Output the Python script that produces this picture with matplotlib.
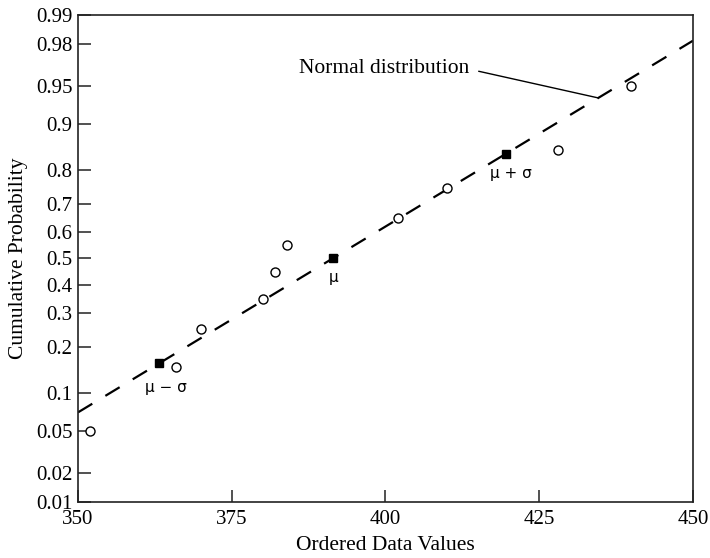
import math
import numpy as np
import matplotlib
matplotlib.use("Agg")
import matplotlib.pyplot as plt
from matplotlib.ticker import FixedLocator, FixedFormatter

# Ordered observations and their plotting positions
data_x = [352, 366, 370, 380, 382, 384, 402, 410, 428, 440]
data_p = [0.05, 0.15, 0.25, 0.35, 0.45, 0.55, 0.65, 0.75, 0.85, 0.95]

# Fitted normal distribution
mu = 391.4
sigma = 28.16

# Reference points at mu - sigma, mu, mu + sigma
ref_x = [mu - sigma, mu, mu + sigma]
ref_p = [0.1587, 0.5, 0.8413]
ref_labels = ["\u03bc \u2212 \u03c3", "\u03bc", "\u03bc + \u03c3"]

y_ticks = [0.01, 0.02, 0.05, 0.1, 0.2, 0.3, 0.4, 0.5, 0.6, 0.7, 0.8, 0.9, 0.95, 0.98, 0.99]
y_tick_labels = ["0.01", "0.02", "0.05", "0.1", "0.2", "0.3", "0.4", "0.5",
                 "0.6", "0.7", "0.8", "0.9", "0.95", "0.98", "0.99"]
x_ticks = [350, 375, 400, 425, 450]


def _ppf_scalar(p):
    # Acklam's rational approximation of the inverse normal CDF
    a = [-3.969683028665376e+01, 2.209460984245205e+02, -2.759285104469687e+02,
         1.383577518672690e+02, -3.066479806614716e+01, 2.506628277459239e+00]
    b = [-5.447609879822406e+01, 1.615858368580409e+02, -1.556989798598866e+02,
         6.680131188771972e+01, -1.328068155288572e+01]
    c = [-7.784894002430293e-03, -3.223964580411365e-01, -2.400758277161838e+00,
         -2.549732539343734e+00, 4.374664141464968e+00, 2.938163982698783e+00]
    d = [7.784695709041462e-03, 3.224671290700398e-01, 2.445134137142996e+00,
         3.754408661907416e+00]
    if not (0.0 < p < 1.0):
        return np.nan
    plow = 0.02425
    if p < plow:
        q = math.sqrt(-2 * math.log(p))
        return (((((c[0]*q + c[1])*q + c[2])*q + c[3])*q + c[4])*q + c[5]) / \
               ((((d[0]*q + d[1])*q + d[2])*q + d[3])*q + 1)
    if p > 1 - plow:
        q = math.sqrt(-2 * math.log(1 - p))
        return -(((((c[0]*q + c[1])*q + c[2])*q + c[3])*q + c[4])*q + c[5]) / \
                ((((d[0]*q + d[1])*q + d[2])*q + d[3])*q + 1)
    q = p - 0.5
    r = q * q
    return (((((a[0]*r + a[1])*r + a[2])*r + a[3])*r + a[4])*r + a[5])*q / \
           (((((b[0]*r + b[1])*r + b[2])*r + b[3])*r + b[4])*r + 1)


def probit(p):
    p = np.asarray(p, dtype=float)
    return np.vectorize(_ppf_scalar, otypes=[float])(p)


def norm_cdf(z):
    z = np.asarray(z, dtype=float)
    return np.vectorize(lambda v: 0.5 * (1 + math.erf(v / math.sqrt(2))), otypes=[float])(z)


plt.rcParams["font.family"] = ["Liberation Serif", "DejaVu Serif"]
plt.rcParams["lines.scale_dashes"] = False

fig = plt.figure(figsize=(7.10, 5.58), dpi=100)
ax = fig.add_axes([0.1099, 0.1004, 0.8661, 0.8727])

ax.set_yscale("function", functions=(probit, norm_cdf))
ax.set_xlim(350, 450)
ax.set_ylim(0.01, 0.99)

# Fitted normal line (straight on probability paper)
line_x = np.array([350.0, 450.0])
line_p = norm_cdf((line_x - mu) / sigma)
ax.plot(line_x, line_p, color="black", lw=1.6, dashes=(12, 11), zorder=2)

# Observations
ax.plot(data_x, data_p, linestyle="none", marker="o", markersize=6.5,
        markerfacecolor="white", markeredgecolor="black", markeredgewidth=1.0, zorder=3)

# mu and mu +/- sigma markers
ax.plot(ref_x, ref_p, linestyle="none", marker="s", markersize=6,
        color="black", zorder=4)
label_offsets = [(5, -12), (1, -8), (4, -9)]
for x, p, lab, off in zip(ref_x, ref_p, ref_labels, label_offsets):
    ax.annotate(lab, xy=(x, p), xytext=off,
                textcoords="offset points", ha="center", va="top",
                fontsize=11, family=["DejaVu Sans"])

# Leader for the fitted line
lead_x = 434.6
lead_p = float(norm_cdf((lead_x - mu) / sigma))
ax.annotate("Normal distribution", xy=(lead_x, lead_p), xytext=(413.6, 0.9655),
            ha="right", va="center", fontsize=15.5,
            arrowprops=dict(arrowstyle="-", color="black", lw=1.0,
                            relpos=(1.0, 0.45), shrinkA=5, shrinkB=0))

ax.yaxis.set_major_locator(FixedLocator(y_ticks))
ax.yaxis.set_major_formatter(FixedFormatter(y_tick_labels))
ax.yaxis.set_minor_locator(FixedLocator([]))
ax.set_xticks(x_ticks)
ax.set_xticklabels([str(v) for v in x_ticks])

ax.tick_params(axis="both", direction="in", length=9, width=1.2, labelsize=15,
               color="#333333", top=False, right=False)
ax.tick_params(axis="y", pad=4)
ax.tick_params(axis="x", pad=6)
for s in ax.spines.values():
    s.set_linewidth(1.2)
    s.set_color("#222222")

ax.set_xlabel("Ordered Data Values", fontsize=15.5, labelpad=5)
ax.set_ylabel("Cumulative Probability", fontsize=15.5, labelpad=6)

fig.savefig("out.png", dpi=100)
